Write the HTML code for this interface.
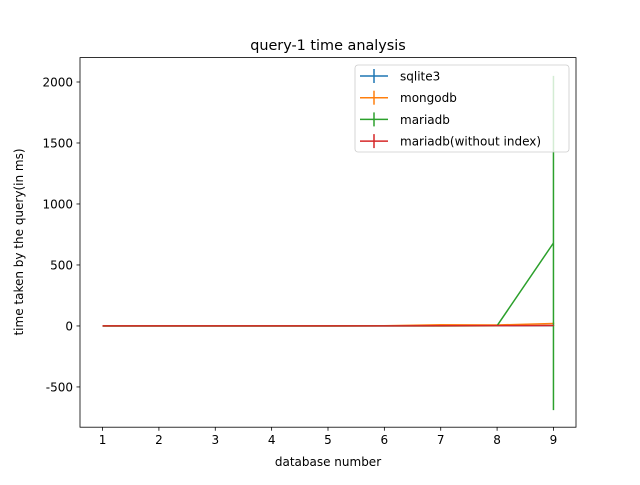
<!DOCTYPE html>
<html><head><meta charset="utf-8"><style>
body{margin:0;background:#fff;}
svg text{font-family:"DejaVu Sans","Liberation Sans",sans-serif;}
</style></head><body>
<svg id="chart" width="640" height="480" xmlns="http://www.w3.org/2000/svg">
<rect width="640" height="480" fill="#fff"/>
<text x="328" y="50" font-size="14.4" text-anchor="middle">query-1 time analysis</text>
<g id="plot"></g>
<rect x="80" y="57.6" width="496" height="369.6" fill="none" stroke="#000" stroke-width="0.8"/>
<text x="328" y="466" font-size="12" text-anchor="middle">database number</text>
<text transform="translate(23,242) rotate(-90)" font-size="12" text-anchor="middle">time taken by the query(in ms)</text>
<g id="legend"></g>
</svg>
<script>
const categories=[1,2,3,4,5,6,7,8,9];
const seriesNames=["sqlite3","mongodb","mariadb","mariadb(without index)"];
const colors=["#1f77b4","#ff7f0e","#2ca02c","#d62728"];
const sqliteVals=[1,1,1,1,1,1,2,2,3];
const mongoVals=[1,1,1,1,1,2,10,8,20];
const mariaVals=[0,0,0,0,0,1,0,2,680];
const mariaNoIdxVals=[1,1,1,1,1,1,2,3,4];
const sqliteErr=[0,0,0,0,0,0,1,1,2];
const mongoErr=[0,0,0,0,0,1,3,3,8];
const mariaErr=[0,0,0,0,0,0,0,1,1370];
const mariaNoIdxErr=[0,0,0,0,0,0,1,1,2];
const yTicks=[-500,0,500,1000,1500,2000];
const xTicks=[1,2,3,4,5,6,7,8,9];
const NS="http://www.w3.org/2000/svg";
const L=80,R=576,T=57.6,B=427.2,xmin=0.6,xmax=9.4,ymin=-830,ymax=2200;
const xs=v=>L+(v-xmin)/(xmax-xmin)*(R-L);
const ys=v=>B-(v-ymin)/(ymax-ymin)*(B-T);
function mk(tag,attrs,parent){const e=document.createElementNS(NS,tag);for(const k in attrs)e.setAttribute(k,attrs[k]);parent.appendChild(e);return e;}
const plot=document.getElementById('plot');
xTicks.forEach(t=>{const g=mk('g',{},plot);


mk('line',{x1:xs(t),x2:xs(t),y1:B,y2:B+3.5,stroke:'#000','stroke-width':0.8},g);
const tx=mk('text',{x:xs(t),y:B+17,'font-size':12,'text-anchor':'middle'},g);tx.textContent=t;});
yTicks.forEach(t=>{const g=mk('g',{},plot);


mk('line',{x1:L-3.5,x2:L,y1:ys(t),y2:ys(t),stroke:'#000','stroke-width':0.8},g);
const tx=mk('text',{x:L-7,y:ys(t)+4.5,'font-size':12,'text-anchor':'end'},g);tx.textContent=t;});
const vals=[sqliteVals,mongoVals,mariaVals,mariaNoIdxVals];
const errs=[sqliteErr,mongoErr,mariaErr,mariaNoIdxErr];
vals.forEach((v,i)=>{const g=mk('g',{},plot);


categories.forEach((c,j)=>{if(errs[i][j]>0)mk('line',{x1:xs(c),x2:xs(c),y1:ys(v[j]-errs[i][j]),y2:ys(v[j]+errs[i][j]),stroke:colors[i],'stroke-width':1.5},g);});
mk('polyline',{points:categories.map((c,j)=>xs(c)+','+ys(v[j])).join(' '),fill:'none',stroke:colors[i],'stroke-width':1.5},g);});
const lg=document.getElementById('legend');
mk('rect',{x:355,y:65,width:214,height:87,rx:3,fill:'#fff','fill-opacity':0.8,stroke:'#ccc','stroke-width':0.8},lg);
seriesNames.forEach((n,i)=>{const y=76+i*21.7;const g=mk('g',{},lg);


mk('line',{x1:360,x2:388,y1:y,y2:y,stroke:colors[i],'stroke-width':1.5},g);
mk('line',{x1:374,x2:374,y1:y-7,y2:y+7,stroke:colors[i],'stroke-width':1.5},g);
const t=mk('text',{x:400,y:y+4.5,'font-size':12},g);t.textContent=n;});
</script>
</body></html>
